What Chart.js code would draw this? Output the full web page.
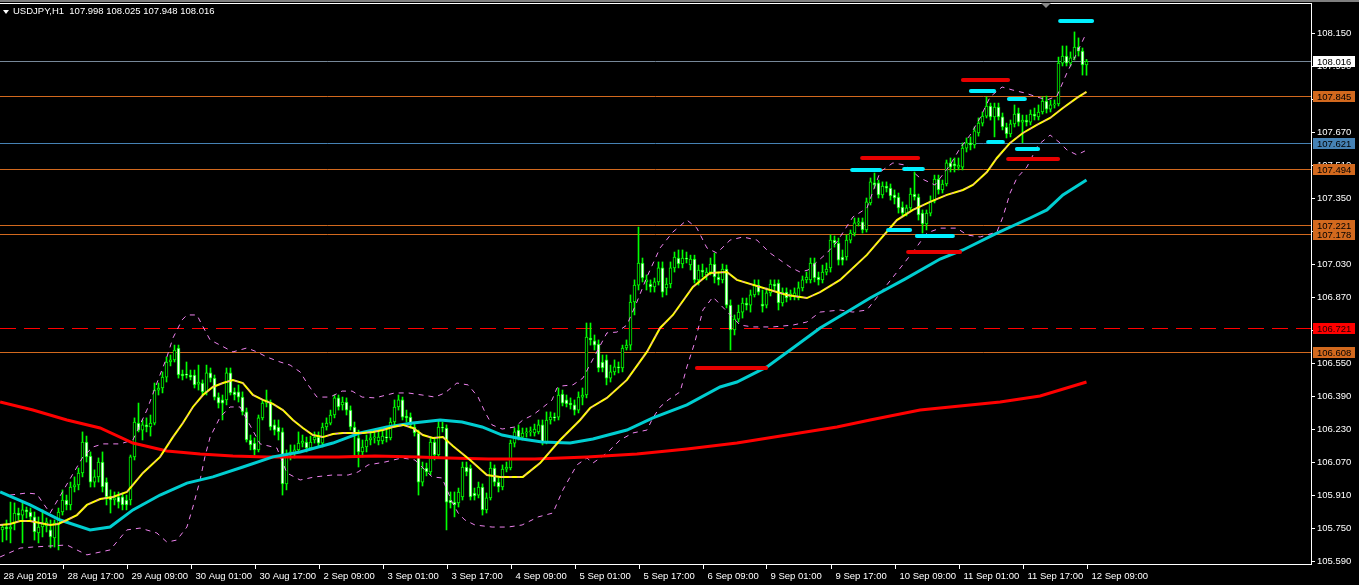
<!DOCTYPE html>
<html><head><meta charset="utf-8">
<script src="https://cdn.jsdelivr.net/npm/chart.js@4.4.1/dist/chart.umd.min.js"></script>
<style>
html,body{margin:0;padding:0;background:#000;overflow:hidden;width:1359px;height:585px;}
#wrap{position:relative;width:1359px;height:585px;}
#c{position:absolute;left:0;top:0;}
#topbar{position:absolute;left:0;top:0;width:1359px;height:2px;background:#7f7f7f;}
#title{position:absolute;left:13px;top:5px;font:9.5px "Liberation Sans",Arial,sans-serif;line-height:12px;color:#fff;white-space:pre;}
#tri{position:absolute;left:3px;top:10px;width:0;height:0;border-left:3px solid transparent;border-right:3px solid transparent;border-top:4px solid #fff;}
#shift{position:absolute;left:1041px;top:3px;width:0;height:0;border-left:5px solid transparent;border-right:5px solid transparent;border-top:5px solid #8a8a8a;}
</style></head><body>
<div id="wrap"><canvas id="c" width="1359" height="585"></canvas><div id="topbar"></div><div id="tri"></div><div id="shift"></div><div id="title">USDJPY,H1  107.998 108.025 107.948 108.016</div></div>
<script>
// ---------- data ----------
const opens=[105.753,105.744,105.758,105.749,105.778,105.826,105.816,105.841,105.831,105.807,
105.729,105.758,105.763,105.744,105.705,105.768,105.831,105.889,105.865,105.952,
105.962,106.020,106.170,106.102,105.976,106.001,106.073,105.976,105.904,105.889,
105.904,105.904,105.889,105.889,106.098,106.262,106.228,106.253,106.243,106.262,
106.422,106.432,106.485,106.558,106.568,106.626,106.500,106.495,106.495,106.495,
106.451,106.456,106.413,106.505,106.480,106.388,106.374,106.374,106.505,106.413,
106.413,106.388,106.316,106.180,106.165,106.132,106.287,106.359,106.364,106.253,
106.243,106.219,105.967,106.107,106.117,106.132,106.165,106.170,106.141,106.180,
106.194,106.165,106.243,106.262,106.301,106.384,106.350,106.364,106.325,106.243,
106.190,106.122,106.146,106.180,106.190,106.175,106.175,106.194,106.190,106.267,
106.340,106.374,106.296,106.291,106.243,106.214,105.976,106.044,106.025,106.170,
106.107,106.243,106.238,105.889,105.879,105.875,105.904,106.049,106.044,105.923,
105.913,105.952,105.841,105.899,106.044,105.976,105.952,106.039,106.044,106.165,
106.228,106.194,106.214,106.219,106.214,106.219,106.253,106.170,106.277,106.291,
106.291,106.403,106.374,106.359,106.350,106.325,106.388,106.398,106.674,106.660,
106.645,106.558,106.568,106.480,106.510,106.534,106.529,106.626,106.640,106.849,
106.931,107.038,106.946,106.936,106.922,106.946,107.014,106.917,106.936,107.014,
107.062,107.033,107.062,107.028,107.057,106.956,107.004,106.980,106.994,107.033,
106.970,106.956,107.009,106.834,106.713,106.766,106.800,106.844,106.834,106.883,
106.931,106.839,106.834,106.893,106.936,106.941,106.844,106.897,106.873,106.873,
106.868,106.917,106.956,106.956,107.038,106.970,106.956,106.994,107.014,107.149,
107.135,107.067,107.067,107.149,107.183,107.232,107.237,107.198,107.329,107.426,
107.426,107.368,107.411,107.401,107.368,107.358,107.309,107.280,107.305,107.372,
107.358,107.280,107.227,107.280,107.338,107.445,107.392,107.421,107.523,107.518,
107.503,107.503,107.595,107.620,107.610,107.668,107.716,107.750,107.799,107.746,
107.794,107.746,107.697,107.663,107.712,107.765,107.721,107.731,107.721,107.760,
107.746,107.770,107.823,107.784,107.804,107.809,108.007,108.041,108.007,108.032,
108.085,108.065,107.998];
const highs=[105.783,105.768,105.792,105.879,105.875,105.850,105.875,105.855,105.850,105.831,
105.807,105.841,105.802,105.792,105.792,105.850,105.938,105.913,105.976,106.001,
106.044,106.219,106.199,106.122,106.035,106.093,106.122,105.996,105.938,105.928,
105.928,105.923,105.913,106.107,106.287,106.359,106.277,106.287,106.301,106.456,
106.456,106.510,106.582,106.592,106.640,106.640,106.519,106.558,106.519,106.519,
106.543,106.471,106.543,106.529,106.495,106.408,106.398,106.529,106.529,106.432,
106.447,106.413,106.335,106.204,106.190,106.301,106.374,106.422,106.374,106.277,
106.277,106.238,106.132,106.156,106.156,106.219,106.204,106.194,106.199,106.219,
106.219,106.262,106.287,106.325,106.398,106.398,106.388,106.384,106.345,106.267,
106.228,106.180,106.204,106.219,106.219,106.228,106.228,106.228,106.287,106.374,
106.398,106.388,106.325,106.311,106.262,106.228,106.073,106.068,106.190,106.190,
106.277,106.267,106.253,105.928,105.928,105.947,106.073,106.073,106.059,105.947,
105.976,105.967,105.923,106.073,106.059,105.996,106.059,106.073,106.180,106.238,
106.253,106.238,106.238,106.243,106.257,106.277,106.277,106.316,106.316,106.311,
106.432,106.422,106.398,106.384,106.374,106.413,106.432,106.747,106.747,106.689,
106.665,106.592,106.592,106.543,106.568,106.558,106.640,106.665,106.883,106.956,
107.212,107.062,106.980,106.956,106.965,107.043,107.043,106.965,107.043,107.091,
107.101,107.101,107.091,107.076,107.076,107.028,107.033,107.014,107.062,107.086,
106.994,107.033,107.028,106.859,106.786,106.834,106.868,106.868,106.907,106.956,
106.956,106.907,106.917,106.956,106.956,106.956,106.917,106.917,106.907,106.917,
106.946,106.975,106.994,107.062,107.062,106.994,107.028,107.038,107.174,107.169,
107.159,107.101,107.174,107.198,107.256,107.256,107.256,107.353,107.450,107.474,
107.440,107.431,107.431,107.421,107.392,107.377,107.334,107.319,107.401,107.479,
107.372,107.295,107.295,107.363,107.464,107.464,107.440,107.537,107.547,107.547,
107.547,107.620,107.644,107.649,107.697,107.741,107.770,107.843,107.813,107.813,
107.813,107.765,107.716,107.731,107.804,107.789,107.755,107.755,107.780,107.789,
107.804,107.843,107.847,107.828,107.828,108.036,108.090,108.090,108.061,108.158,
108.129,108.080,108.025];
const lows=[105.695,105.686,105.695,105.681,105.744,105.792,105.681,105.802,105.792,105.695,
105.681,105.710,105.734,105.657,105.661,105.647,105.816,105.841,105.841,105.928,
105.938,106.001,106.073,105.952,105.952,105.976,105.928,105.865,105.826,105.865,
105.850,105.841,105.841,105.865,106.083,106.219,106.180,106.219,106.199,106.253,
106.398,106.408,106.461,106.539,106.558,106.480,106.471,106.480,106.471,106.432,
106.422,106.398,106.398,106.461,106.374,106.335,106.277,106.350,106.398,106.374,
106.364,106.301,106.170,106.132,106.107,106.122,106.277,106.340,106.228,106.204,
106.180,105.913,105.938,106.083,106.093,106.122,106.146,106.122,106.132,106.165,
106.146,106.146,106.228,106.253,106.287,106.325,106.325,106.301,106.228,106.098,
106.049,106.098,106.122,106.156,106.165,106.156,106.161,106.170,106.180,106.253,
106.325,106.277,106.267,106.238,106.199,105.913,105.957,106.006,106.010,106.083,
106.093,106.219,105.744,105.850,105.807,105.855,105.889,106.006,105.889,105.889,
105.899,105.816,105.826,105.889,105.957,105.928,105.938,106.025,106.035,106.146,
106.180,106.180,106.194,106.199,106.199,106.209,106.156,106.161,106.257,106.272,
106.277,106.345,106.340,106.330,106.301,106.311,106.350,106.384,106.640,106.616,
106.510,106.510,106.447,106.461,106.495,106.505,106.510,106.616,106.616,106.786,
106.907,106.946,106.907,106.897,106.897,106.931,106.873,106.883,106.917,106.994,
107.014,107.014,107.038,107.004,106.941,106.931,106.970,106.956,106.980,106.941,
106.931,106.941,106.820,106.616,106.689,106.752,106.771,106.810,106.800,106.873,
106.883,106.800,106.820,106.878,106.907,106.810,106.829,106.849,106.859,106.859,
106.859,106.902,106.941,106.941,106.946,106.931,106.941,106.980,106.994,107.115,
107.028,107.028,107.052,107.135,107.169,107.217,107.183,107.188,107.319,107.401,
107.353,107.353,107.382,107.343,107.324,107.280,107.261,107.266,107.295,107.343,
107.246,107.183,107.198,107.266,107.329,107.372,107.377,107.411,107.479,107.479,
107.489,107.489,107.576,107.586,107.595,107.653,107.702,107.741,107.731,107.649,
107.731,107.683,107.644,107.649,107.697,107.702,107.620,107.702,107.707,107.731,
107.731,107.760,107.765,107.770,107.789,107.799,107.993,107.993,107.993,108.022,
108.041,107.949,107.948];
const closes=[105.758,105.758,105.749,105.758,105.826,105.816,105.841,105.831,105.807,105.734,
105.758,105.773,105.783,105.710,105.778,105.831,105.889,105.865,105.952,105.962,
106.020,106.170,106.098,105.976,106.001,106.073,105.952,105.904,105.889,105.899,
105.879,105.865,105.865,106.098,106.267,106.228,106.253,106.243,106.262,106.422,
106.432,106.485,106.558,106.568,106.616,106.495,106.490,106.494,106.485,106.447,
106.461,106.413,106.505,106.480,106.388,106.359,106.359,106.505,106.408,106.398,
106.388,106.316,106.180,106.156,106.132,106.287,106.359,106.374,106.243,106.228,
106.219,105.967,106.107,106.122,106.132,106.165,106.175,106.141,106.170,106.194,
106.165,106.243,106.262,106.301,106.384,106.340,106.364,106.325,106.243,106.214,
106.122,106.146,106.180,106.190,106.194,106.194,106.199,106.190,106.267,106.340,
106.374,106.291,106.287,106.253,106.214,105.976,106.044,106.025,106.170,106.107,
106.243,106.238,105.879,105.875,105.865,105.928,106.049,106.025,105.904,105.909,
105.952,105.841,105.899,106.044,105.976,105.952,106.039,106.049,106.165,106.219,
106.194,106.214,106.219,106.224,106.233,106.253,106.170,106.277,106.291,106.287,
106.398,106.359,106.355,106.350,106.325,106.388,106.398,106.679,106.665,106.640,
106.529,106.529,106.480,106.510,106.534,106.529,106.626,106.640,106.849,106.931,
107.038,106.965,106.956,106.922,106.946,107.014,106.897,106.936,107.014,107.067,
107.033,107.062,107.057,107.057,106.956,107.004,106.994,106.994,107.033,106.970,
106.956,107.009,106.834,106.713,106.766,106.800,106.844,106.834,106.883,106.931,
106.897,106.829,106.893,106.936,106.926,106.844,106.897,106.868,106.888,106.893,
106.917,106.956,106.970,107.038,106.965,106.956,106.994,107.009,107.149,107.135,
107.052,107.052,107.149,107.183,107.232,107.237,107.198,107.334,107.431,107.416,
107.368,107.411,107.401,107.363,107.353,107.305,107.280,107.305,107.372,107.358,
107.271,107.227,107.280,107.338,107.445,107.392,107.421,107.523,107.503,107.508,
107.513,107.595,107.620,107.610,107.678,107.716,107.750,107.799,107.746,107.794,
107.746,107.697,107.663,107.712,107.760,107.721,107.731,107.721,107.760,107.750,
107.770,107.823,107.784,107.804,107.809,108.007,108.041,108.007,108.032,108.085,
108.065,107.998,108.016];

const timeLabels=['28 Aug 2019','28 Aug 17:00','29 Aug 09:00','30 Aug 01:00','30 Aug 17:00','2 Sep 09:00','3 Sep 01:00','3 Sep 17:00','4 Sep 09:00','5 Sep 01:00','5 Sep 17:00','6 Sep 09:00','9 Sep 01:00','9 Sep 17:00','10 Sep 09:00','11 Sep 01:00','11 Sep 17:00','12 Sep 09:00'];
const timeLabelBars=[0,16,32,48,64,80,96,112,128,144,160,176,192,208,224,240,256,272];
const yTickValues=[105.590,105.750,105.910,106.070,106.230,106.390,106.550,106.710,106.870,107.030,107.190,107.350,107.510,107.670,107.830,107.990,108.150];

const levelPrices=[108.016,107.845,107.621,107.494,107.221,107.178,106.721,106.608];
const levelKinds=['bid','orange','blue','orange','orange','orange','reddash','orange'];

const maFastBar=[0.4,2.9,5.4,7.9,10.4,12.9,14.9,17.1,19.6,22.1,25.4,28.6,32.1,33.6,36.1,40.4,43.6,46.1,48.6,51.1,53.6,56.1,58.6,61.1,63.6,66.1,68.6,71.1,73.6,76.1,78.6,81.1,83.6,86.1,88.6,91.1,93.6,96.1,98.6,101.1,103.6,106.1,108.6,111.1,113.6,117.9,122.1,125.4,127.9,131.1,135.4,140.4,145.4,147.9,152.1,157.1,162.1,165.4,168.6,173.6,177.9,182.1,184.6,192.9,197.1,202.1,205.4,210.4,217.1,224.6,228.6,232.9,237.1,241.1,243.6,247.1,249.6,252.9,256.1,259.6,262.9,266.1,269.6,272];
const maFastVal=[105.768,105.773,105.787,105.787,105.778,105.768,105.773,105.792,105.816,105.865,105.894,105.904,105.928,105.962,106.020,106.098,106.194,106.262,106.340,106.398,106.437,106.456,106.471,106.456,106.398,106.374,106.355,106.325,106.277,106.238,106.204,106.194,106.209,106.214,106.214,106.214,106.219,106.228,106.243,106.253,106.238,106.204,106.190,106.194,106.151,106.083,106.010,106.001,106.001,106.001,106.068,106.180,106.277,106.335,106.384,106.471,106.607,106.723,106.786,106.922,106.989,106.994,106.956,106.907,106.883,106.868,106.897,106.956,107.077,107.246,107.295,107.334,107.368,107.392,107.416,107.479,107.547,107.620,107.668,107.707,107.741,107.789,107.838,107.867];
const maMidBar=[0.4,7.9,15.4,22.9,27.9,33.6,40.4,47.1,53.6,61.1,68.6,75.4,83.6,90.4,97.1,103.6,110.4,115.9,120.9,125.9,130.9,135.9,142.9,148.6,157.1,163.6,172.1,180.4,184.6,192.1,198.6,205.4,212.1,217.9,226.6,235.4,241.1,249.6,257.9,262.1,266.1,272];
const maMidVal=[105.928,105.865,105.792,105.744,105.758,105.841,105.913,105.971,106.001,106.049,106.098,106.122,106.165,106.214,106.243,106.262,106.277,106.267,106.243,106.204,106.185,106.170,106.165,106.185,106.228,106.287,106.350,106.437,106.461,106.534,106.626,106.723,106.800,106.868,106.960,107.057,107.101,107.183,107.256,107.295,107.368,107.440];
const maSlowBar=[0.4,8.6,17.1,25.4,33.6,42.1,50.4,58.6,67.1,75.4,84.9,94.1,104.9,112.4,122.4,134.1,147.1,159.6,172.1,184.6,197.1,209.6,217.9,230.4,250.4,260.4,272];
const maSlowVal=[106.364,106.325,106.277,106.238,106.165,106.127,106.112,106.102,106.098,106.098,106.098,106.102,106.098,106.093,106.088,106.088,106.098,106.112,106.136,106.165,106.204,106.243,106.277,106.325,106.364,106.393,106.461];
const bandUpBar=[2.9,7.1,9.6,11.1,12.9,21.1,23.6,26.1,30.4,33.6,37.1,39.6,42.1,43.6,45.9,47.1,49.6,50.9,52.9,55.4,58.6,62.1,64.6,67.1,70.4,72.9,75.4,77.4,79.6,82.9,85.9,88.4,90.9,94.1,99.1,102.4,105.9,109.1,111.6,114.6,117.4,119.9,121.6,123.4,125.9,129.1,131.1,133.6,135.9,138.4,139.6,140.9,143.6,146.1,152.1,154.6,157.1,159.6,162.1,165.4,168.6,172.1,174.6,177.1,179.6,182.9,186.1,189.6,192.9,195.4,197.9,200.4,202.4,204.6,207.1,209.6,213.6,217.1,220.4,223.6,226.6,230.4,234.1,237.9,240.4,242.9,245.4,247.9,250.9,253.6,256.6,259.6,262.1,264.6,267.1,269.6,271.6];
const bandUpVal=[105.913,105.923,105.918,105.875,105.826,106.098,106.146,106.161,106.161,106.180,106.325,106.456,106.582,106.674,106.762,106.786,106.786,106.737,106.665,106.640,106.607,106.626,106.607,106.582,106.558,106.543,106.510,106.447,106.388,106.388,106.417,106.417,106.388,106.384,106.408,106.408,106.398,106.388,106.408,106.456,106.447,106.388,106.316,106.253,106.233,106.243,106.277,106.301,106.335,106.374,106.432,106.442,106.447,106.480,106.699,106.703,106.737,106.849,106.970,107.111,107.188,107.246,107.207,107.111,107.086,107.149,107.164,107.149,107.086,107.052,107.018,106.994,107.004,107.043,107.086,107.140,107.261,107.304,107.479,107.523,107.513,107.450,107.416,107.513,107.595,107.658,107.741,107.843,107.891,107.876,107.862,107.843,107.828,107.847,107.959,108.056,108.138];
const bandLoBar=[0.4,5.4,8.6,17.1,22.1,27.9,32.1,35.4,39.6,42.1,44.6,47.1,48.6,50.4,51.6,52.9,55.4,57.9,60.4,65.4,69.6,72.1,75.4,79.1,83.4,87.4,89.9,92.4,96.6,100.9,104.1,108.4,110.9,113.4,114.9,116.6,119.1,123.4,127.4,130.9,134.9,138.6,141.1,144.6,147.1,148.6,152.1,155.4,158.6,162.1,163.6,165.4,167.4,170.4,172.1,174.1,176.1,178.6,185.4,188.6,193.6,198.6,202.1,205.4,210.4,213.6,217.1,228.6,232.1,235.4,239.6,242.1,245.4,249.6,251.1,252.9,254.6,257.1,259.9,262.9,265.4,267.1,269.6,271.6];
const bandLoVal=[105.613,105.656,105.661,105.671,105.623,105.647,105.744,105.753,105.729,105.685,105.695,105.758,105.855,105.986,106.098,106.194,106.291,106.340,106.340,106.161,106.141,106.020,105.986,106.001,106.010,106.010,106.025,106.059,106.073,106.093,106.083,106.001,105.996,105.879,105.826,105.792,105.768,105.758,105.758,105.768,105.807,105.826,105.938,106.059,106.093,106.068,106.117,106.180,106.214,106.228,106.287,106.340,106.374,106.413,106.534,106.655,106.810,106.873,106.737,106.728,106.728,106.737,106.752,106.800,106.810,106.800,106.810,107.091,107.183,107.207,107.207,107.174,107.164,107.188,107.261,107.377,107.450,107.503,107.610,107.658,107.620,107.586,107.562,107.581];

const segFrom=[265.4,241.1,243.1,252.6,247.4,254.6,252.4,215.9,213.4,226.4,222.4,229.6,227.4,174.6];
const segTo=[273.4,252.4,248.9,256.6,251.1,259.9,264.9,229.9,220.4,231.1,227.9,238.6,240.4,191.9];
const segPrice=[108.211,107.925,107.872,107.833,107.624,107.590,107.542,107.547,107.489,107.494,107.198,107.169,107.091,106.529];
const segKind=['c','r','c','c','c','c','r','r','c','c','c','c','r','r'];

// ---------- styles ----------
const STY={
  bid:{line:'#778899',box:'#ffffff',text:'#000000'},
  orange:{line:'#D2691E',box:'#D2691E',text:'#000000'},
  blue:{line:'#4682B4',box:'#4682B4',text:'#000000'},
  reddash:{line:'#FF0000',box:'#FF0000',text:'#200000',dash:[16,8]}
};
const FONT='"Liberation Sans", Arial, sans-serif';

const idx=opens.map((_,i)=>i);
const wickData=idx.map(i=>({x:i,y:[lows[i],highs[i]]}));
const bodyData=idx.map(i=>({x:i,y:[opens[i],closes[i]]}));
const bodyFill=idx.map(i=>closes[i]>opens[i]?'#000000':(closes[i]<opens[i]?'#FFFFFF':'#00FF00'));
const pts=(xs,vs)=>xs.map((x,k)=>({x:x,y:vs[k]}));

const lineBase={type:'line',pointRadius:0,pointHoverRadius:0,tension:0,fill:false};
const datasets=[];
segFrom.forEach((f,k)=>{
  datasets.push(Object.assign({},lineBase,{data:[{x:f,y:segPrice[k]},{x:segTo[k],y:segPrice[k]}],
    borderColor:segKind[k]==='c'?'#00F0FF':'#E80000',borderWidth:4,borderCapStyle:'round',order:1}));
});
datasets.push(Object.assign({},lineBase,{data:pts(maFastBar,maFastVal),borderColor:'#EE82EE',borderWidth:1,borderDash:[3,5],order:2}));
datasets.push(Object.assign({},lineBase,{data:pts(maFastBar,maFastVal),borderColor:'#FFFF00',borderWidth:2,order:3}));
datasets.push(Object.assign({},lineBase,{data:pts(maMidBar,maMidVal),borderColor:'#00CED1',borderWidth:3,order:4}));
datasets.push(Object.assign({},lineBase,{data:pts(maSlowBar,maSlowVal),borderColor:'#FF0000',borderWidth:3,order:5}));
datasets.push(Object.assign({},lineBase,{data:pts(bandUpBar,bandUpVal),borderColor:'#EE82EE',borderWidth:1,borderDash:[5,5],order:6}));
datasets.push(Object.assign({},lineBase,{data:pts(bandLoBar,bandLoVal),borderColor:'#EE82EE',borderWidth:1,borderDash:[5,5],order:6}));
datasets.push({type:'bar',data:bodyData,backgroundColor:bodyFill,borderColor:'#00FF00',borderWidth:1,borderSkipped:false,barThickness:3,minBarLength:1,grouped:false,order:8});
datasets.push({type:'bar',data:wickData,backgroundColor:'#00FF00',borderWidth:0,barThickness:1,grouped:false,order:9});

const overlay={
  id:'overlay',
  beforeDatasetsDraw(chart){
    const {ctx,chartArea:a,scales:{y}}=chart;
    ctx.save();
    levelPrices.forEach((p,k)=>{
      const st=STY[levelKinds[k]];
      const py=Math.round(y.getPixelForValue(p))+0.5;
      ctx.strokeStyle=st.line;ctx.lineWidth=1;ctx.setLineDash(st.dash||[]);
      ctx.beginPath();ctx.moveTo(a.left,py);ctx.lineTo(a.right,py);ctx.stroke();
    });
    ctx.restore();
  },
  afterDraw(chart){
    const {ctx,chartArea:a,scales:{x,y}}=chart;
    ctx.save();
    ctx.strokeStyle='#ffffff';ctx.lineWidth=1;ctx.setLineDash([]);
    ctx.beginPath();ctx.moveTo(0,a.top+0.5);ctx.lineTo(a.right+1,a.top+0.5);ctx.stroke();
    ctx.font='9.5px '+FONT;ctx.textBaseline='middle';ctx.textAlign='left';
    levelPrices.forEach((p,k)=>{
      const st=STY[levelKinds[k]];
      const py=Math.round(y.getPixelForValue(p));
      ctx.fillStyle=st.box;ctx.fillRect(a.right+2,py-5,42,11);
      ctx.fillStyle=st.text;ctx.fillText(p.toFixed(3),a.right+6,py+1);
    });
    ctx.textBaseline='alphabetic';ctx.fillStyle='#ffffff';
    timeLabelBars.forEach((b,k)=>{
      const px=Math.round(x.getPixelForValue(b))+0.5;
      ctx.beginPath();ctx.moveTo(px,a.bottom);ctx.lineTo(px,a.bottom+5);ctx.stroke();
      ctx.fillText(timeLabels[k],px+4,a.bottom+15);
    });
    ctx.restore();
  }
};

new Chart(document.getElementById('c'),{
  type:'bar',
  data:{datasets:datasets},
  options:{
    responsive:false,animation:false,devicePixelRatio:1,events:[],
    layout:{padding:{top:3,left:0,right:0,bottom:0}},
    plugins:{legend:{display:false},tooltip:{enabled:false},title:{display:false}},
    scales:{
      x:{type:'linear',min:0.375,max:328.125,offset:false,
         grid:{display:false},ticks:{display:false},
         border:{display:true,color:'#ffffff',width:1},
         afterFit(s){s.height=21;s.paddingLeft=0;s.paddingRight=0;}},
      y:{type:'linear',position:'right',min:105.5788,max:108.2982,
         afterFit(s){s.width=48;s.paddingTop=0;s.paddingBottom=0;},
         afterBuildTicks(s){s.ticks=yTickValues.map(v=>({value:v}));},
         ticks:{color:'#ffffff',font:{family:FONT,size:9.5},padding:2,autoSkip:false,callback:(v)=>Number(v).toFixed(3)},
         grid:{drawOnChartArea:false,drawTicks:true,tickLength:4,color:'#ffffff'},
         border:{display:true,color:'#ffffff',width:1}}
    }
  },
  plugins:[overlay]
});
</script>
</body></html>
